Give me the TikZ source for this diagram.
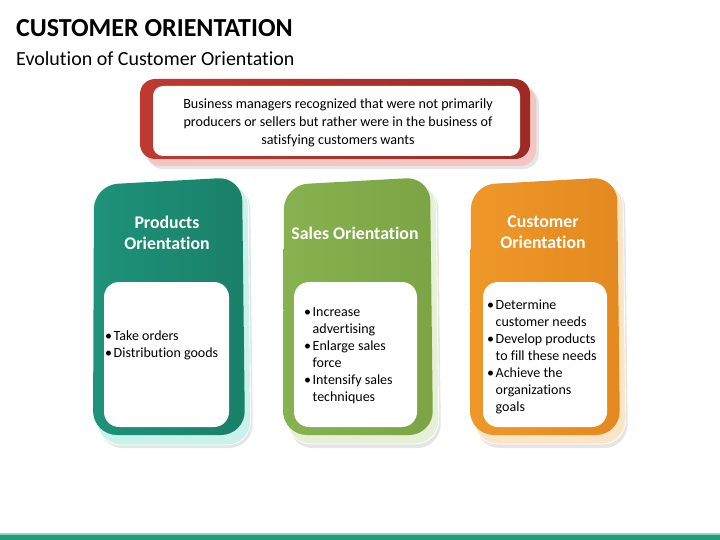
\documentclass[tikz,border=0pt]{standalone}
\usepackage{fontspec}
\setmainfont{Carlito}[Ligatures=NoCommon]
\definecolor{tealA}{HTML}{1E927A}
\definecolor{tealB}{HTML}{1A8068}
\definecolor{tealS}{HTML}{C9F2EA}
\definecolor{greenA}{HTML}{88B24F}
\definecolor{greenB}{HTML}{7BA545}
\definecolor{greenS}{HTML}{E6F0D6}
\definecolor{orangeA}{HTML}{EF982A}
\definecolor{orangeB}{HTML}{E3891F}
\definecolor{orangeS}{HTML}{FCE5C6}
\definecolor{redA}{HTML}{BF3931}
\definecolor{redB}{HTML}{9E2A25}
\definecolor{redS}{HTML}{F4C5C2}
\definecolor{barC}{HTML}{1F9C7C}
\definecolor{barL}{HTML}{8FD3C0}
\newcommand\cardshape[4]{(#1,#4) -- (#1+1,#3+8) -- (#2-3,#3) -- (#2,#4) -- cycle}
\tikzset{
  softshadow/.style={fill=black,opacity=0.10,rounded corners=24},
  backcard/.style={draw=white,line width=0.8pt,rounded corners=24},
  frontcard/.style={rounded corners=24},
  innerbox/.style={fill=white,rounded corners=15},
  cardtitle/.style={text=white,font=\fontsize{17.8}{21}\selectfont\bfseries,align=center},
  bullets/.style={text=black,font=\fontsize{14}{17}\selectfont,align=left,inner sep=0pt},
  toptext/.style={text=black,font=\fontsize{14.1}{18}\selectfont,align=center},
}
\newcommand\bl{\makebox[8.5pt][l]{•}}
\newcommand\ind{\hspace*{8.5pt}}
\begin{document}
\begin{tikzpicture}[x=1pt,y=-1pt]
\useasboundingbox (0,0) rectangle (720,540);
\fill[white] (0,0) rectangle (720,540);

% title
\node[anchor=base west,inner sep=0pt,font=\fontsize{26}{30}\selectfont\bfseries] (title) at (16,37) {CUSTOMER ORIENTATION};
\node[anchor=base west,inner sep=0pt,font=\fontsize{20}{24}\selectfont] (subtitle) at (16,66) {Evolution of Customer Orientation};

% top red box
\fill[black,opacity=0.10,rounded corners=16] (147,88) rectangle (539,169);
\fill[redS,rounded corners=16] (145,85) rectangle (536,166);
\shade[left color=redA,right color=redB,rounded corners=15] (140,79) rectangle (530,159);
\fill[white,rounded corners=10] (153,86) rectangle (520,156);
\node[toptext] (top) at (338,123) {Business managers recognized that were not primarily\\producers or sellers but rather were in the business of\\satisfying customers wants};

% teal card
\fill[softshadow] \cardshape{99}{253}{184}{448};
\fill[tealS,backcard] \cardshape{97}{251}{182}{445};
\shade[frontcard,left color=tealA,right color=tealB] \cardshape{93}{245}{177}{435};
\fill[innerbox] (104,282) rectangle (229,427);
\node[cardtitle] (t1) at (167,232.5) {Products\\Orientation};
\node[bullets,anchor=west] (b1) at (105,345) {\bl Take orders\\\bl Distribution goods};

% green card
\fill[softshadow] \cardshape{289}{441}{184}{448};
\fill[greenS,backcard] \cardshape{287}{439}{182}{444};
\shade[frontcard,left color=greenA,right color=greenB] \cardshape{283}{433}{177}{435};
\fill[innerbox] (294,282) rectangle (417,427);
\node[cardtitle] (t2) at (355,233) {Sales Orientation};
\node[bullets,anchor=west] (b2) at (304,355.5) {\bl Increase\\\ind advertising\\\bl Enlarge sales\\\ind force\\\bl Intensify sales\\\ind techniques};

% orange card
\fill[softshadow] \cardshape{476}{628}{184}{448};
\fill[orangeS,backcard] \cardshape{474}{626}{182}{444};
\shade[frontcard,left color=orangeA,right color=orangeB] \cardshape{470}{620}{177}{435};
\fill[innerbox] (483,282) rectangle (607,427);
\node[cardtitle] (t3) at (543,232.5) {Customer\\Orientation};
\node[bullets,anchor=west] (b3) at (487,357) {\bl Determine\\\ind customer needs\\\bl Develop products\\\ind to fill these needs\\\bl Achieve the\\\ind organizations\\\ind goals};

% bottom bar
\fill[barL] (0,533) rectangle (720,535);
\fill[barC] (0,534.5) rectangle (720,540);
\end{tikzpicture}
\end{document}
